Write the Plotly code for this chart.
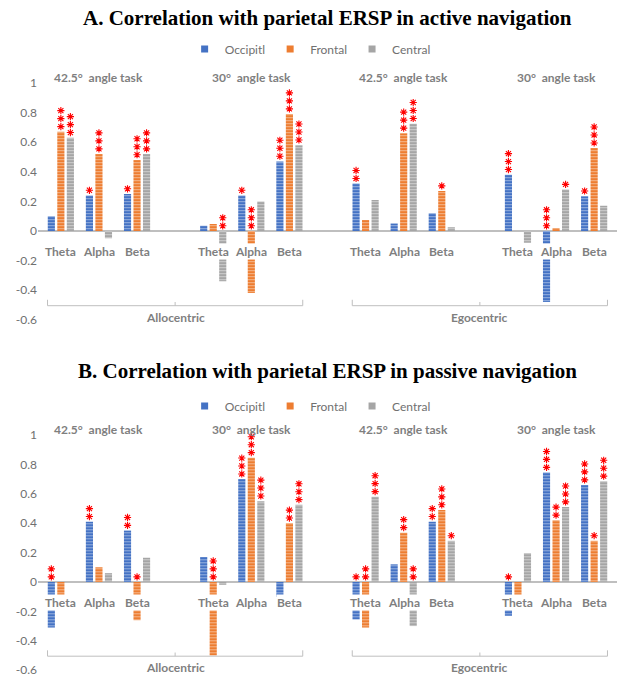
import plotly.graph_objects as go

# ---------------- data ----------------
slots = [0, 1, 2, 4, 5, 6, 8, 9, 10, 12, 13, 14]
band_labels = ["Theta", "Alpha", "Beta"] * 4
task_labels = ["42.5°  angle task", "30°  angle task", "42.5°  angle task", "30°  angle task"]
task_centers = [1, 5, 9, 13]
frame_labels = ["Allocentric", "Egocentric"]
frame_spans = [(0, 6), (8, 14)]
series_names = ["Occipitl", "Frontal", "Central"]
series_colors = ["#4472C4", "#ED7D31", "#A5A5A5"]

# Panel A: active navigation
occ_A = [0.10, 0.24, 0.25, 0.036, 0.24, 0.47, 0.32, 0.05, 0.12, 0.38, -0.48, 0.235]
fro_A = [0.67, 0.52, 0.48, 0.047, -0.42, 0.79, 0.075, 0.66, 0.27, 0.0, 0.02, 0.56]
cen_A = [0.63, -0.05, 0.52, -0.34, 0.20, 0.58, 0.21, 0.725, 0.025, -0.08, 0.28, 0.17]
occ_sA = [0, 1, 1, 0, 1, 3, 2, 0, 0, 3, 3, 1]
fro_sA = [3, 3, 3, 0, 3, 3, 0, 3, 1, 0, 0, 3]
cen_sA = [3, 0, 3, 2, 0, 3, 0, 3, 0, 0, 1, 0]

# Panel B: passive navigation
occ_P = [-0.31, 0.41, 0.35, 0.17, 0.70, -0.10, -0.255, 0.12, 0.41, -0.23, 0.745, 0.66]
fro_P = [-0.10, 0.10, -0.26, -0.50, 0.845, 0.40, -0.31, 0.335, 0.49, -0.10, 0.42, 0.28]
cen_P = [0.0, 0.06, 0.165, -0.02, 0.55, 0.525, 0.58, -0.30, 0.28, 0.196, 0.51, 0.685]
occ_sP = [2, 2, 2, 0, 3, 0, 1, 0, 2, 1, 3, 3]
fro_sP = [0, 0, 1, 3, 3, 2, 2, 2, 3, 0, 2, 1]
cen_sP = [0, 0, 0, 0, 3, 3, 3, 2, 1, 0, 3, 3]

panel_titles = ["A. Correlation with parietal ERSP in active navigation",
                "B. Correlation with parietal ERSP in passive navigation"]
ytick_vals = [-0.6, -0.4, -0.2, 0, 0.2, 0.4, 0.6, 0.8, 1]
ytick_text = ["-0.6", "-0.4", "-0.2", "0", "0.2", "0.4", "0.6", "0.8", "1"]

# ---------------- style ----------------
W, H = 618, 677
GRAY = "#7F7F7F"
AXFONT = "Lato"
BAR_STEP = 0.25          # center spacing of grouped bars (matches bargap/bargroupgap)
STAR_OFF, STAR_STEP = 0.035, 0.054

fig = go.Figure()

panels = [
    dict(vals=[occ_A, fro_A, cen_A], stars=[occ_sA, fro_sA, cen_sA], ax="", legend="legend",
         dom=[1 - 320.5 / H, 1 - 68.2 / H], title_y=1 - 17.5 / H, legend_y=1 - 49 / H),
    dict(vals=[occ_P, fro_P, cen_P], stars=[occ_sP, fro_sP, cen_sP], ax="2", legend="legend2",
         dom=[1 - 670.9 / H, 1 - 420.3 / H], title_y=1 - 371 / H, legend_y=1 - 406 / H),
]

annotations = []
shapes = []
for p_i, p in enumerate(panels):
    xa, ya = "x" + p["ax"], "y" + p["ax"]
    for j in range(3):
        fig.add_trace(go.Bar(
            x=slots, y=p["vals"][j], name=series_names[j], xaxis=xa, yaxis=ya,
            showlegend=False,
            marker=dict(color=series_colors[j], line=dict(width=0),
                        pattern=dict(shape="-", size=3, solidity=0.35,
                                     fgcolor="white", fgopacity=0.45)),
            hoverinfo="skip",
        ))
    # legend entries (solid square swatches like the original)
    for j in range(3):
        fig.add_trace(go.Scatter(
            x=[None], y=[None], mode="markers", name=series_names[j], xaxis=xa, yaxis=ya,
            legend=p["legend"],
            marker=dict(symbol="square", size=7, color=series_colors[j]),
        ))
    # significance stars
    for j in range(3):
        sx, sy = [], []
        for s, v, n in zip(slots, p["vals"][j], p["stars"][j]):
            base = max(v, 0)
            for m in range(n):
                sx.append(s + (j - 1) * BAR_STEP)
                sy.append(base + STAR_OFF + m * STAR_STEP)
        fig.add_trace(go.Scatter(
            x=sx, y=sy, mode="markers", xaxis=xa, yaxis=ya, showlegend=False,
            marker=dict(symbol="asterisk-open", size=6, color="#FF0000",
                        line=dict(color="#FF0000", width=1.1)),
            hoverinfo="skip", cliponaxis=False,
        ))
    # category labels (white boxes over bars like the original)
    for s, lab in zip(slots, band_labels):
        annotations.append(dict(x=s, y=-0.14, xref=xa, yref=ya, text=lab, showarrow=False,
                                font=dict(family=AXFONT, size=12, color=GRAY, weight="bold"),
                                bgcolor="white", borderpad=0))
    for c, lab in zip(task_centers, task_labels):
        annotations.append(dict(x=c, y=1.04, xref=xa, yref=ya, text=lab, showarrow=False,
                                font=dict(family=AXFONT, size=12, color=GRAY, weight="bold")))
    for (a, b), lab in zip(frame_spans, frame_labels):
        x0, x1, xm = a - 0.35, b + 0.35, (a + b) / 2
        path = (f"M {x0},-0.465 L {x0},-0.505 L {x1},-0.505 L {x1},-0.465 "
                f"M {xm},-0.505 L {xm},-0.48")
        shapes.append(dict(type="path", xref=xa, yref=ya, path=path,
                           line=dict(color="#BFBFBF", width=1)))
        annotations.append(dict(x=xm, y=-0.585, xref=xa, yref=ya, text=lab, showarrow=False,
                                font=dict(family=AXFONT, size=12, color=GRAY, weight="bold")))
    annotations.append(dict(x=0.5, y=p["title_y"], xref="paper", yref="paper",
                            xanchor="center", yanchor="middle",
                            text=panel_titles[p_i], showarrow=False,
                            font=dict(family="Liberation Serif", size=21, color="black",
                                      weight="bold")))

axis_x = dict(range=[-0.6, 14.6], showticklabels=False, showgrid=False, zeroline=False,
              showline=False, ticks="", automargin=False)
axis_y = dict(range=[-0.605, 1.1], tickvals=ytick_vals, ticktext=ytick_text, showgrid=False,
              zeroline=True, zerolinecolor="#BFBFBF", zerolinewidth=1.5, showline=False,
              tickfont=dict(family=AXFONT, size=12, color="#707070"), ticks="",
              automargin=False, ticklabeloverflow="allow")

leg = dict(orientation="h", x=0.47, xanchor="center", yanchor="middle",
           font=dict(family=AXFONT, size=12, color="#707070"), bgcolor="rgba(0,0,0,0)",
           itemwidth=30, tracegroupgap=0)

fig.update_layout(
    width=W, height=H, margin=dict(l=38, r=1, t=0, b=0, autoexpand=False),
    paper_bgcolor="white", plot_bgcolor="white",
    barmode="group", bargap=0.25, bargroupgap=0.25,
    xaxis=dict(axis_x, anchor="y", domain=[0, 1]),
    yaxis=dict(axis_y, anchor="x", domain=panels[0]["dom"]),
    xaxis2=dict(axis_x, anchor="y2", domain=[0, 1]),
    yaxis2=dict(axis_y, anchor="x2", domain=panels[1]["dom"]),
    legend=dict(leg, y=panels[0]["legend_y"]),
    legend2=dict(leg, y=panels[1]["legend_y"]),
    annotations=annotations, shapes=shapes,
)

# remove the default 8px page margin so the 618x677 figure fills the window exactly
fig.write_html("out.html", config={"displayModeBar": False},
               post_script="document.body.style.margin='0';")
